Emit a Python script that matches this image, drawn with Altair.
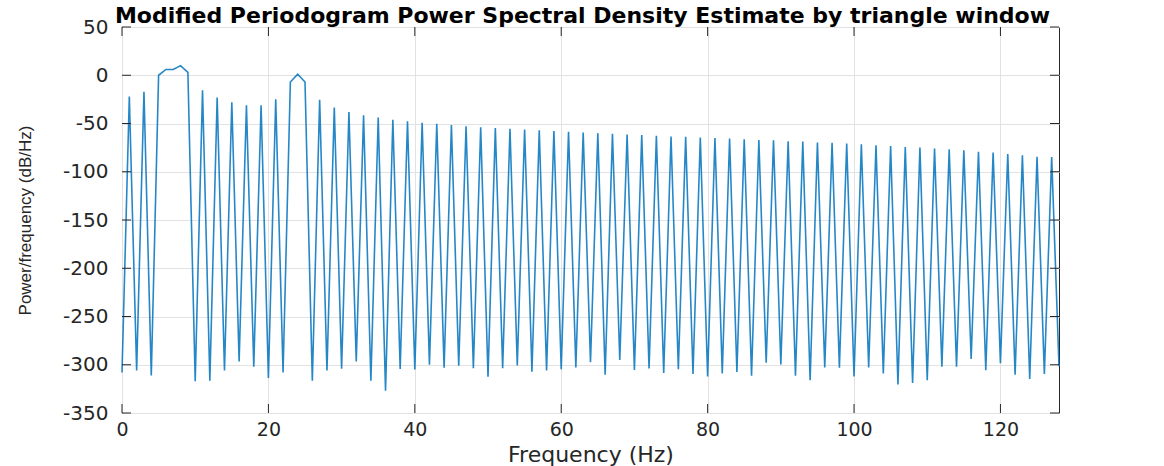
import altair as alt
import pandas as pd

# ---- data ----
freq_hz = list(range(0, 129))
psd_db = [
    -308, -22, -306, -17, -311, 0, 6, 6, 10, 3,
    -317, -15.5, -316.5, -23, -306, -28, -296.5, -31, -302, -31,
    -313.7, -25, -308, -7, 1, -7, -316.5, -25.5, -306, -33.5,
    -304, -38, -296.5, -41.4, -316.5, -43.8, -327, -46.2, -304.4, -47.6,
    -305, -49.3, -300, -50.3, -303, -51.7, -301, -52.8, -303.7, -53.8,
    -312.3, -54.8, -303.5, -55.5, -300.8, -56.2, -307.2, -56.9, -306, -57.9,
    -304.6, -58.6, -302.7, -59.3, -297.3, -60, -310.3, -60.7, -295, -61.4,
    -305.3, -62, -303.8, -62.7, -308.4, -63.4, -304.6, -63.8, -309.5, -64.5,
    -312.2, -65, -309, -65.6, -307.6, -66.3, -311.4, -67, -298, -67.4,
    -299.6, -68.4, -311.4, -68.8, -316, -69.8, -302.7, -70.1, -303, -70.8,
    -312.2, -71.5, -302.7, -72.6, -309, -73.3, -320.5, -74.3, -319, -75,
    -316, -76, -302, -76.7, -302, -77.8, -294, -79.2, -305.7, -80.2,
    -298.5, -81.6, -310.3, -83, -314.8, -84.4, -309.5, -84.7, -301.5,
]
x_ticks = [0, 20, 40, 60, 80, 100, 120]
y_ticks = [-350, -300, -250, -200, -150, -100, -50, 0, 50]

title_text = "Modified Periodogram Power Spectral Density Estimate by triangle window"
x_title = "Frequency (Hz)"
y_title = "Power/frequency (dB/Hz)"

W, H = 937, 386
TICK = 9
AXC = "#262626"

df = pd.DataFrame({"f": freq_hz, "p": psd_db})
xt = pd.DataFrame({"f": x_ticks})
yt = pd.DataFrame({"p": y_ticks})

xs = alt.Scale(domain=[0, 128], nice=False, zero=False)
ys = alt.Scale(domain=[-350, 50], nice=False, zero=False)

x_axis = alt.Axis(values=x_ticks, title=x_title, labelFlush=False,
                  labelOverlap=False, labelPadding=16, labelBaseline="middle",
                  labelFontSize=19,
                  labelExpr="datum.value + ''",
                  titleX=W / 2, titleY=48, titleBaseline="alphabetic",
                  titleFont="DejaVu Sans", titleFontSize=22)
y_axis = alt.Axis(values=y_ticks, title=y_title, labelFlush=False,
                  labelOverlap=False, labelPadding=14,
                  labelExpr="datum.value + ''",
                  titleX=-97, titleY=H / 2, titleAngle=270,
                  titleAlign="center", titleBaseline="middle",
                  titleFont="Liberation Sans", titleFontSize=17)

X = alt.X("f:Q", scale=xs, axis=x_axis)
Y = alt.Y("p:Q", scale=ys, axis=y_axis)

line = alt.Chart(df).mark_line(color="#0072BD", strokeWidth=1.6, opacity=0.85).encode(x=X, y=Y)

left_ticks = alt.Chart(yt).mark_rule(color=AXC, strokeWidth=1).encode(
    y=Y, x=alt.value(0), x2=alt.value(TICK))
right_ticks = alt.Chart(yt).mark_rule(color=AXC, strokeWidth=1).encode(
    y=Y, x=alt.value(W - TICK), x2=alt.value(W))
bottom_ticks = alt.Chart(xt).mark_rule(color=AXC, strokeWidth=1).encode(
    x=X, y=alt.value(H), y2=alt.value(H - TICK))
top_ticks = alt.Chart(xt).mark_rule(color=AXC, strokeWidth=1).encode(
    x=X, y=alt.value(0), y2=alt.value(TICK))

chart = alt.layer(line, left_ticks, right_ticks, bottom_ticks, top_ticks).properties(
    width=W, height=H,
    padding={"left": 122, "top": 27, "right": 105, "bottom": 53},
    autosize=alt.AutoSizeParams(type="none"),
    background="white",
    title=alt.TitleParams(text=title_text, font="DejaVu Sans", fontSize=22,
                          fontWeight="bold", color="#000000", anchor="middle",
                          frame="group", baseline="alphabetic", offset=0, dy=28, dx=-8),
).configure_view(
    stroke=AXC, strokeWidth=1
).configure_axis(
    grid=True, gridColor="#e2e2e2", gridWidth=1, domain=False,
    ticks=False, tickSize=0,
    labelFont="DejaVu Sans", labelFontSize=20, labelColor=AXC,
    titleColor=AXC, titleFontWeight="normal",
)

chart.save("out.html", embed_options={"renderer": "svg", "actions": False})
